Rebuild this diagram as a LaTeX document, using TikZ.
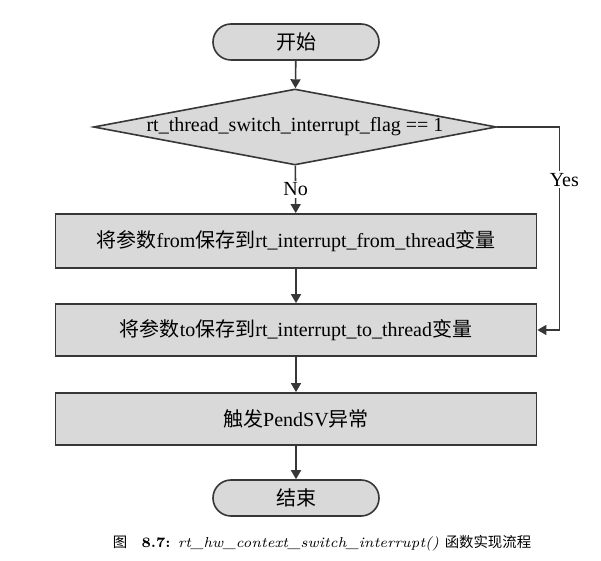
\documentclass[tikz,border=0pt]{standalone}
\usepackage{fontspec}
\usepackage{tikz}
\usetikzlibrary{shapes.geometric,arrows.meta}
\newfontfamily\tnrfont{Liberation Serif}
\newfontfamily\cjkfont{Noto Sans CJK SC}
\newcommand\zh[1]{{\cjkfont #1}}
\definecolor{boxgray}{RGB}{217,217,217}
\definecolor{linegray}{RGB}{55,55,55}

\begin{document}
\begin{tikzpicture}[x=0.5pt,y=-0.5pt,font=\tnrfont\fontsize{10}{12}\selectfont]
\tikzstyle{terminal}=[rectangle,rounded corners=9pt,draw=linegray,fill=boxgray,line width=0.8pt,minimum width=83pt,minimum height=18pt,inner sep=0]
\tikzstyle{process}=[rectangle,draw=linegray,fill=boxgray,line width=0.9pt,minimum width=240.5pt,minimum height=26pt,inner sep=0]
\tikzstyle{decision}=[diamond,draw=linegray,fill=boxgray,line width=0.8pt,aspect=5.3,minimum width=201.5pt,minimum height=38pt,inner sep=0]
\tikzstyle{arrow}=[draw=linegray,line width=0.8pt,-{Triangle[length=4.5pt,width=5pt]}]
\tikzstyle{lbl}=[fill=white,inner sep=1pt]
\useasboundingbox (0,0) rectangle (601,561);
% flow boxes
\node(start)[terminal] at (296,42) {\zh{开始}};
\node(dec)[decision] at (295,127) {rt\_thread\_switch\_interrupt\_flag == 1};
\node(box1)[process,minimum height=27pt] at (296,241) {\zh{将参数}from\zh{保存到}rt\_interrupt\_from\_thread\zh{变量}};
\node(box2)[process] at (296,330) {\zh{将参数}to\zh{保存到}rt\_interrupt\_to\_thread\zh{变量}};
\node(box3)[process] at (296,419) {\zh{触发}PendSV\zh{异常}};
\node(stop)[terminal] at (296,498) {\zh{结束}};
% connectors
\draw[arrow] (start) -- (dec);
\draw[arrow] (dec) -- node[lbl] (no) {No} (box1);
\draw[arrow] (box1) -- (box2);
\draw[arrow] (box2) -- (box3);
\draw[arrow] (box3) -- (stop);
\draw[arrow] (dec.east) -- ++(31pt,0) |- node[lbl,pos=0.13,xshift=2.5pt] (yes) {Yes} (box2.east);
% caption
\node(cap) at (322,543) {\fontsize{7.2}{9}\selectfont\normalfont\zh{图}\quad\textbf{8.7:} \textit{rt\_hw\_context\_switch\_interrupt()} \zh{函数实现流程}};
\end{tikzpicture}
\end{document}
